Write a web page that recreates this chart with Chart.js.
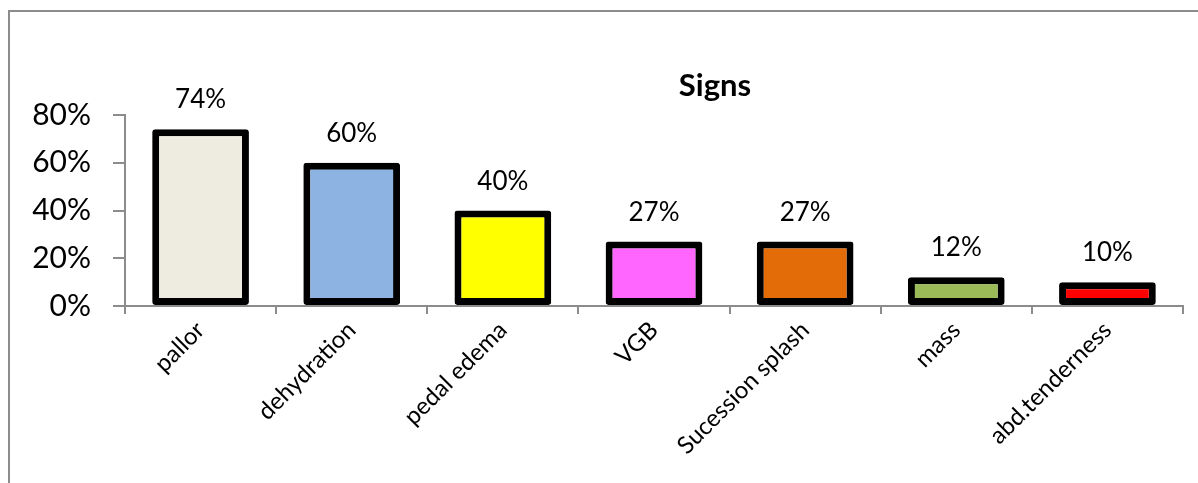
<!DOCTYPE html>
<html>
<head>
<meta charset="utf-8">
<script src="https://cdn.jsdelivr.net/npm/chart.js@4"></script>
<style>
    body { margin: 0; background: #fff; }
    .wrap { position: relative; width: 1198px; height: 483px; overflow: hidden; }
    .frame { position: absolute; left: 8px; top: 10px; width: 1300px; height: 600px; border: 2px solid #8c8c8c; }
    canvas { position: absolute; left: 0; top: 0; }
</style>
</head>
<body>
<div class="wrap">
    <div class="frame"></div>
    <canvas class="myChart" width="1198" height="483"></canvas>
</div>
<script>
const labels = ["pallor", "dehydration", "pedal edema", "VGB", "Sucession splash", "mass", "abd.tenderness"];
const values = [74, 60, 40, 27, 27, 12, 10];
const colors = ["#EEECE1", "#8DB3E2", "#FFFF00", "#FF66FF", "#E36C09", "#9BBB59", "#FF0000"];
const yTicks = [0, 20, 40, 60, 80];

const fontFamily = "Lato, 'Liberation Sans', sans-serif";

// value labels above each bar + the title
const labelPlugin = {
    id: "valueLabels",
    afterDatasetsDraw(chart) {
        const ctx = chart.ctx;
        const meta = chart.getDatasetMeta(0);
        ctx.save();
        ctx.fillStyle = "#000";
        ctx.font = "26px " + fontFamily;
        ctx.textAlign = "center";
        ctx.textBaseline = "alphabetic";
        meta.data.forEach((bar, i) => {
            ctx.fillText(values[i] + "%", bar.x, bar.y - 21);
        });
        ctx.font = "bold 31px " + fontFamily;
        ctx.fillText("Signs", 715, 96);
        ctx.restore();
    }
};

const data = {
    labels: labels,
    datasets: [{
        data: values,
        backgroundColor: colors,
        borderColor: "#000",
        borderWidth: 7,
        borderRadius: 3,
        borderSkipped: false,
        barPercentage: 0.64,
        categoryPercentage: 1
    }]
};

const config = {
    type: "bar",
    data: data,
    plugins: [labelPlugin],
    options: {
        responsive: false,
        animation: false,
        layout: { padding: { left: 10, right: 15, top: 115, bottom: 0 } },
        plugins: {
            legend: { display: false },
            tooltip: { enabled: false },
            title: { display: false }
        },
        scales: {
            y: {
                min: 0,
                max: 80,
                afterBuildTicks(scale) {
                    scale.ticks = yTicks.map(v => ({ value: v }));
                },
                afterFit(scale) { scale.width = 115; },
                border: { color: "#8c8c8c", width: 2 },
                grid: { drawOnChartArea: false, drawTicks: true, tickLength: 12, color: "#8c8c8c", lineWidth: 2 },
                ticks: {
                    padding: 22,
                    color: "#000",
                    font: { family: fontFamily, size: 30 },
                    callback: v => v + "%"
                }
            },
            x: {
                afterFit(scale) { scale.height = 177; },
                border: { color: "#8c8c8c", width: 2 },
                grid: { drawOnChartArea: false, drawTicks: true, tickLength: 8, color: "#8c8c8c", lineWidth: 2, offset: true },
                ticks: {
                    padding: 2,
                    color: "#000",
                    maxRotation: 45,
                    minRotation: 45,
                    font: { family: fontFamily, size: 24 }
                }
            }
        }
    }
};

// eslint-disable-next-line no-undef
const myChart = new Chart(document.querySelector(".myChart"), config);
</script>
</body>
</html>
